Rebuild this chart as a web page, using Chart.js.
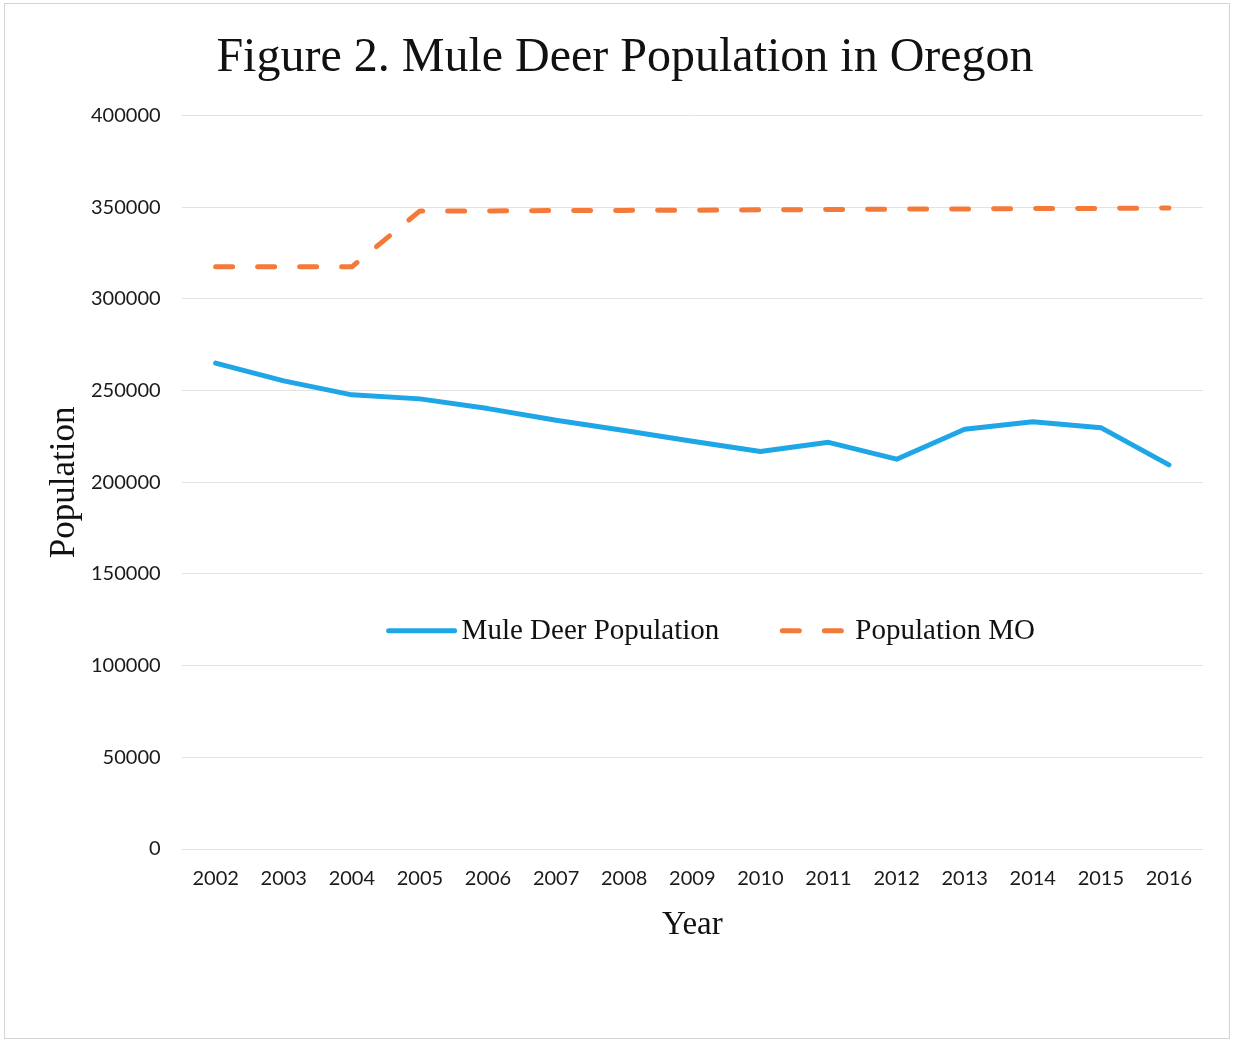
<!DOCTYPE html>
<html>
<head>
<meta charset="utf-8">
<script src="https://cdn.jsdelivr.net/npm/chart.js@4.4.0/dist/chart.umd.min.js"></script>
<style>
  html, body { margin: 0; padding: 0; background: #fff; }
  #wrap { position: absolute; left: 4px; top: 3px; width: 1224px; height: 1034px; border: 1px solid #d4d4d4; }
</style>
</head>
<body>
<div id="wrap"><canvas id="myChart"></canvas></div>
<script>
// data
const years = ['2002', '2003', '2004', '2005', '2006', '2007', '2008', '2009', '2010', '2011', '2012', '2013', '2014', '2015', '2016'];
const muleDeer = [265000, 255300, 247700, 245500, 240200, 233800, 228300, 222400, 216800, 221800, 212600, 228900, 233000, 229800, 209500];
const populationMO = [317500, 317500, 317500, 348000, 348000, 348200, 348300, 348400, 348600, 348800, 349000, 349100, 349300, 349400, 349600];
const yTicks = [0, 50000, 100000, 150000, 200000, 250000, 300000, 350000, 400000];

const blue = '#1ea6e6';
const orange = '#f47a3a';

// legend drawn inside the plot area, like the original
const midLegend = {
  id: 'midLegend',
  afterDatasetsDraw(chart) {
    const ctx = chart.ctx;
    const area = chart.chartArea;
    const y = chart.scales.y.getPixelForValue(119000);
    ctx.save();
    ctx.font = '29px "Liberation Serif", "Times New Roman", serif';
    ctx.textBaseline = 'middle';
    const sample = 72, gap = 4, between = 60;
    const items = chart.data.datasets.map(ds => ({ ds, w: ctx.measureText(ds.label).width }));
    let total = 0;
    items.forEach((it, i) => { total += sample + gap + it.w + (i ? between : 0); });
    let x = (area.left + area.right) / 2 + 18 - total / 2;
    items.forEach((it, i) => {
      if (i) x += between;
      ctx.strokeStyle = it.ds.borderColor;
      ctx.lineWidth = it.ds.borderWidth;
      ctx.lineCap = 'round';
      ctx.setLineDash(it.ds.borderDash || []);
      ctx.beginPath();
      ctx.moveTo(x + 3, y);
      ctx.lineTo(x + sample - 3, y);
      ctx.stroke();
      ctx.setLineDash([]);
      ctx.fillStyle = '#111';
      ctx.fillText(it.ds.label, x + sample + gap, y + 1);
      x += sample + gap + it.w;
    });
    ctx.restore();
  }
};

const ctx = document.getElementById('myChart').getContext('2d');
new Chart(ctx, {
  type: 'line',
  data: {
    labels: years,
    datasets: [{
      label: 'Mule Deer Population',
      data: muleDeer,
      borderColor: blue,
      backgroundColor: blue,
      borderWidth: 5,
      borderCapStyle: 'round',
      borderJoinStyle: 'round',
      pointRadius: 0,
      tension: 0
    }, {
      label: 'Population MO',
      data: populationMO,
      borderColor: orange,
      backgroundColor: orange,
      borderWidth: 5,
      borderDash: [17, 25],
      borderCapStyle: 'round',
      borderJoinStyle: 'round',
      pointRadius: 0,
      tension: 0
    }]
  },
  options: {
    responsive: true,
    maintainAspectRatio: false,
    animation: false,
    layout: { padding: { left: 42, right: 26, top: 12, bottom: 96 } },
    plugins: {
      legend: { display: false },
      tooltip: { enabled: false },
      title: {
        display: true,
        text: 'Figure 2. Mule Deer Population in Oregon',
        color: '#111',
        font: { family: '"Liberation Serif", "Times New Roman", serif', size: 48, weight: 'normal' },
        padding: { top: 14, bottom: 28 }
      }
    },
    scales: {
      x: {
        offset: true,
        grid: { display: false, drawTicks: false },
        border: { display: false },
        ticks: {
          color: '#1a1a1a',
          padding: 18,
          maxRotation: 0,
          font: { family: 'Lato, "Open Sans", sans-serif', size: 20 }
        },
        title: {
          display: true,
          text: 'Year',
          color: '#111',
          padding: { top: 0, bottom: 0 },
          font: { family: '"Liberation Serif", "Times New Roman", serif', size: 33, lineHeight: 1 }
        }
      },
      y: {
        min: 0,
        max: 400000,
        afterBuildTicks(axis) { axis.ticks = yTicks.map(v => ({ value: v })); },
        grid: { color: '#e3e3e3', lineWidth: 1, drawTicks: false },
        border: { display: false },
        ticks: {
          color: '#1a1a1a',
          padding: 21,
          callback: v => String(v),
          font: { family: 'Lato, "Open Sans", sans-serif', size: 20 }
        },
        title: {
          display: true,
          text: 'Population',
          color: '#111',
          padding: { top: 0, bottom: -12 },
          font: { family: '"Liberation Serif", "Times New Roman", serif', size: 35, lineHeight: 1 }
        }
      }
    }
  },
  plugins: [midLegend]
});
</script>
</body>
</html>
